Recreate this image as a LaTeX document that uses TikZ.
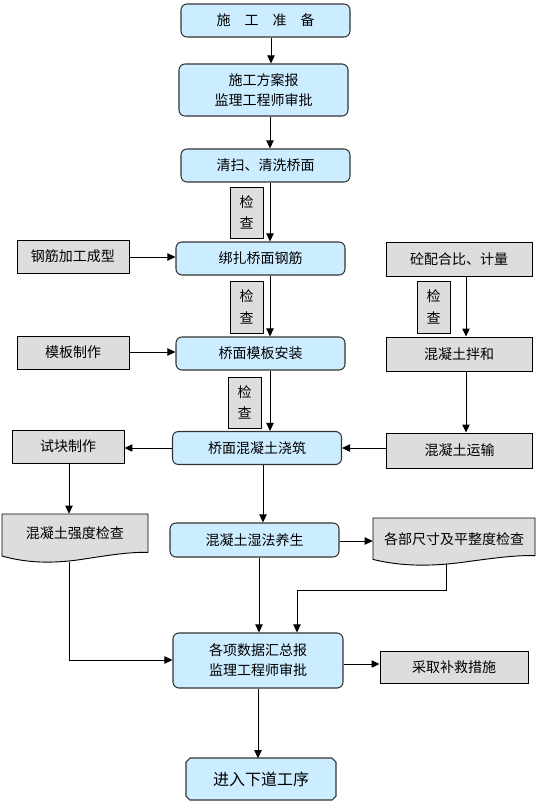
\documentclass[tikz,border=0pt]{standalone}
\usepackage{fontspec}
\newfontfamily\cjk{Noto Sans CJK SC}
\usetikzlibrary{arrows.meta}
\definecolor{bluefill}{HTML}{CCECFF}
\definecolor{grayfill}{HTML}{DDDDDD}
\definecolor{bord}{HTML}{333333}
\tikzset{
  base/.style={font=\cjk\fontsize{10.5pt}{15pt}\selectfont, align=center, inner sep=0pt, text=black},
  wh/.style 2 args={minimum width=#1*0.75pt, minimum height=#2*0.75pt},
  bluebox/.style={base, draw=bord, fill=bluefill, rounded corners=4.5pt, line width=0.8pt},
  endshape/.style={draw=bord, fill=bluefill, line width=0.8pt},
  graybox/.style={base, draw=black, fill=grayfill, line width=0.7pt},
  chkbox/.style={base, font=\cjk\fontsize{10.5pt}{16pt}\selectfont, draw=black, fill=grayfill, line width=0.7pt},
  docshape/.style={draw=black, fill=grayfill, line width=0.7pt},
  doctext/.style={base},
  arr/.style={-{Triangle[length=6pt,width=5.5pt]}, line width=0.75pt, draw=black}
}
\begin{document}
\begin{tikzpicture}[x=0.75pt,y=-0.75pt]
\fill[white] (0,0) rectangle (544,807);
\useasboundingbox (0,0) rectangle (544,807);

% guide coordinates
\coordinate (vA) at (271,0);
\coordinate (vB) at (270,0);
\coordinate (vC) at (263,0);
\coordinate (vD) at (259,0);
\coordinate (vE) at (258,0);
\coordinate (vF) at (466,0);
\coordinate (vG) at (69,0);
\coordinate (vI) at (297,0);
\coordinate (hA) at (0,257);
\coordinate (hB) at (0,352);
\coordinate (hC) at (0,448);
\coordinate (hD) at (0,541);
\coordinate (hE) at (0,660);
\coordinate (hF) at (0,664);
\coordinate (hG) at (0,590);

% main column
\node[bluebox, wh={169}{33}] (prep) at (265.5,20.5) {施\hspace{1em}工\hspace{1em}准\hspace{1em}备};
\node[bluebox, wh={169}{52}] (plan) at (263.5,90) {施工方案报\\监理工程师审批};
\node[bluebox, wh={169}{33}] (clean) at (265.5,165.5) {清扫、清洗桥面};
\node[chkbox, wh={33}{51}] (chk1) at (246.5,212.5) {检\\查};
\node[bluebox, wh={169}{33}] (rebar) at (260.5,258.5) {绑扎桥面钢筋};
\node[chkbox, wh={33}{52}] (chk2) at (246.5,307) {检\\查};
\node[bluebox, wh={169}{33}] (forminst) at (260.5,353.5) {桥面模板安装};
\node[chkbox, wh={33}{51}] (chk4) at (244.5,402.5) {检\\查};
\node[bluebox, wh={169}{33}] (pour) at (257,448) {桥面混凝土浇筑};
\node[bluebox, wh={169}{34}] (cure) at (254.5,540) {混凝土湿法养生};
\node[bluebox, wh={170}{55}] (summary) at (258,660.5) {各项数据汇总报\\监理工程师审批};
\draw[endshape] (190,758) -- (332,758) -- (336,762) -- (336,796) -- (332,800)
  -- (190,800) -- (186,796) -- (186,762) -- cycle;
\node[base, font=\cjk\fontsize{12pt}{15pt}\selectfont, wh={150}{42}] (next) at (261,779.5) {进入下道工序};

% left column
\node[graybox, wh={112}{33}] (rebarproc) at (73,256.5) {钢筋加工成型};
\node[graybox, wh={112}{33}] (formmake) at (73,352.5) {模板制作};
\node[graybox, wh={112}{33}] (sample) at (68,446.5) {试块制作};
\draw[docshape] (2,514) -- (148,514) -- (148,552.4)
  .. controls (130.5,551.9) and (111.5,554.8) .. (86.7,558.6)
  .. controls (60.4,563) and (31.2,564.4) .. (2,556) -- cycle;
\node[doctext, wh={146}{38}] (strength) at (75,533) {混凝土强度检查};
\coordinate (sB) at (69,562);

% right column
\node[graybox, wh={146}{34}] (mix) at (459,259) {砼配合比、计量};
\node[chkbox, wh={33}{52}] (chk3) at (433.5,307) {检\\查};
\node[graybox, wh={146}{34}] (mixing) at (459,354) {混凝土拌和};
\node[graybox, wh={146}{35}] (transport) at (459.5,450.5) {混凝土运输};
\draw[docshape] (373,518) -- (535,518) -- (535,555.6)
  .. controls (515.6,555.1) and (494.5,558) .. (467,561.7)
  .. controls (437.8,565.9) and (405.4,567.4) .. (373,559.4) -- cycle;
\node[doctext, wh={162}{42}] (dims) at (454,539) {各部尺寸及平整度检查};
\coordinate (dB) at (446,563.5);
\node[graybox, wh={148}{32}] (remedy) at (454,667.5) {采取补救措施};

% connectors
\draw[arr] (prep.south -| vA) -- (plan.north -| vA);
\draw[arr] (plan.south -| vB) -- (clean.north -| vB);
\draw[arr] (clean.south -| vB) -- (rebar.north -| vB);
\draw[arr] (rebar.south -| vB) -- (forminst.north -| vB);
\draw[arr] (forminst.south -| vB) -- (pour.north -| vB);
\draw[arr] (pour.south -| vC) -- (cure.north -| vC);
\draw[arr] (cure.south -| vD) -- (summary.north -| vD);
\draw[arr] (summary.south -| vE) -- (next.north -| vE);

\draw[arr] (rebarproc.east |- hA) -- (rebar.west |- hA);
\draw[arr] (formmake.east |- hB) -- (forminst.west |- hB);
\draw[arr] (pour.west |- hC) -- (sample.east |- hC);
\draw[arr] (sample.south -| vG) -- (strength.north -| vG);
\draw[arr] (sB) |- (summary.west |- hE);

\draw[arr] (mix.south -| vF) -- (mixing.north -| vF);
\draw[arr] (mixing.south -| vF) -- (transport.north -| vF);
\draw[arr] (transport.west |- hC) -- (pour.east |- hC);
\draw[arr] (cure.east |- hD) -- (dims.west |- hD);
\draw[arr] (dB) -- (dB |- hG) -| (summary.north -| vI);
\draw[arr] (summary.east |- hF) -- (remedy.west |- hF);
\end{tikzpicture}
\end{document}
